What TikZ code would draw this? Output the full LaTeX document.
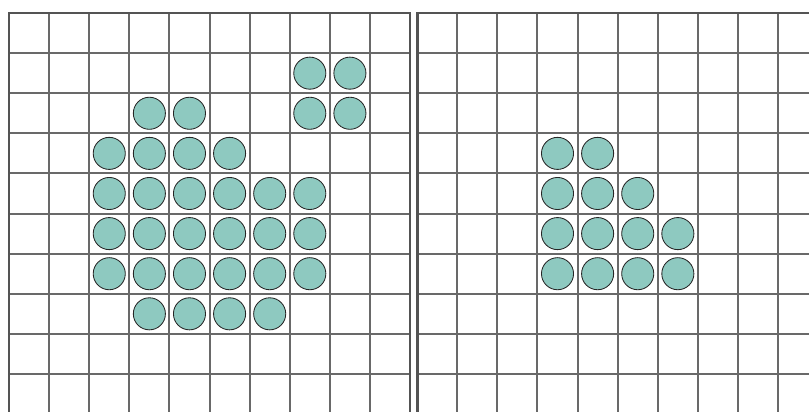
\documentclass[tikz,border=0pt]{standalone}
\definecolor{gridgray}{RGB}{105,105,105}
\definecolor{disk}{RGB}{142,201,192}
\begin{document}
\begin{tikzpicture}[x=1cm, y=-1cm, line width=0.5pt,
  gridline/.style={draw=gridgray, line width=1.4pt},
  frameline/.style={draw=gridgray!80!black, line width=2pt},
  cell/.style={fill=disk, draw=black!85, line width=0.6pt}]
  \useasboundingbox (0,0) rectangle (20.17,10.27);
  \clip (0,0) rectangle (20.17,10.27);
  % 왼쪽 격자
  \begin{scope}[shift={(0.224,0.324)}]
    \foreach \k in {1,...,9} \draw[gridline] (\k,0) -- (\k,10.5);
    \foreach \k in {1,...,10} \draw[gridline] (0,\k) -- (10,\k);
    \draw[frameline] (0,10.5) -- (0,0) -- (10,0) -- (10,10.5);
    % 채워진 칸
    \foreach \c/\r in {7/1,8/1,3/2,4/2,7/2,8/2,2/3,3/3,4/3,5/3,
                       2/4,3/4,4/4,5/4,6/4,7/4,2/5,3/5,4/5,5/5,6/5,7/5,
                       2/6,3/6,4/6,5/6,6/6,7/6,3/7,4/7,5/7,6/7}
      \draw[cell] (\c+0.5,\r+0.5) circle (0.4);
  \end{scope}
  % 오른쪽 격자
  \begin{scope}[shift={(10.4,0.324)}]
    \foreach \k in {1,...,10} \draw[gridline] (\k,0) -- (\k,10.5);
    \foreach \k in {1,...,10} \draw[gridline] (0,\k) -- (10.5,\k);
    \draw[frameline] (0,10.5) -- (0,0) -- (10.5,0);
    \foreach \c/\r in {3/3,4/3,3/4,4/4,5/4,3/5,4/5,5/5,6/5,3/6,4/6,5/6,6/6}
      \draw[cell] (\c+0.5,\r+0.5) circle (0.4);
  \end{scope}
\end{tikzpicture}
\end{document}
